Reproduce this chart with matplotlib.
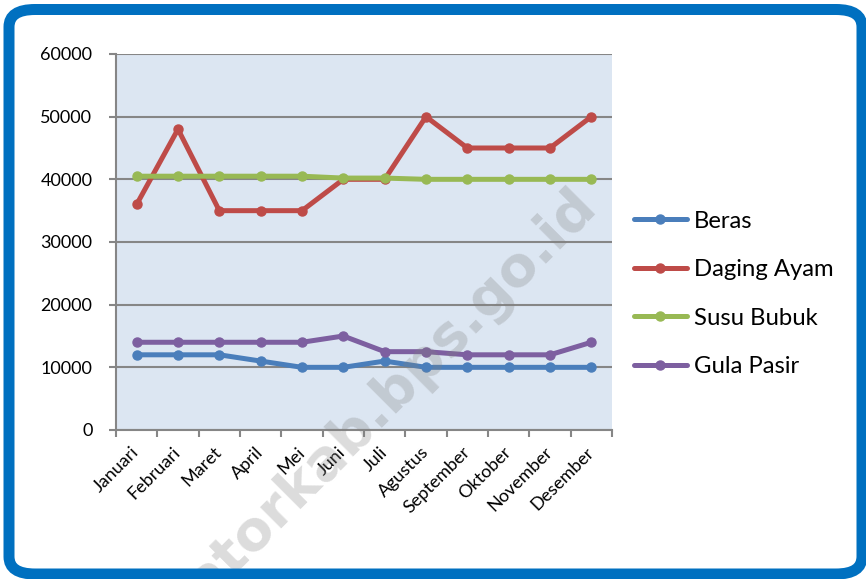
import matplotlib
matplotlib.use("Agg")
import matplotlib.pyplot as plt
from matplotlib.patches import FancyBboxPatch
import numpy as np

months = ["Januari", "Februari", "Maret", "April", "Mei", "Juni", "Juli",
          "Agustus", "September", "Oktober", "November", "Desember"]
beras = [12000, 12000, 12000, 11000, 10000, 10000, 11000, 10000, 10000, 10000, 10000, 10000]
daging_ayam = [36000, 48000, 35000, 35000, 35000, 40000, 40000, 50000, 45000, 45000, 45000, 50000]
susu_bubuk = [40500, 40500, 40500, 40500, 40500, 40200, 40200, 40000, 40000, 40000, 40000, 40000]
gula_pasir = [14000, 14000, 14000, 14000, 14000, 15000, 12500, 12500, 12000, 12000, 12000, 14000]
series_names = ["Beras", "Daging Ayam", "Susu Bubuk", "Gula Pasir"]
y_ticks = [0, 10000, 20000, 30000, 40000, 50000, 60000]

colors = ["#4A7EBB", "#BE4B48", "#98B954", "#7D5FA0"]

W, H = 866, 579
fig = plt.figure(figsize=(W / 100, H / 100), dpi=100)
plt.rcParams['font.family'] = ['Lato', 'DejaVu Sans']

L, R, T, B = 116, 612, 54, 430
ax = fig.add_axes([L / W, 1 - B / H, (R - L) / W, (B - T) / H])
ax.set_facecolor("#DCE6F2")

x = np.arange(len(months))
for vals, name, c in zip([beras, daging_ayam, susu_bubuk, gula_pasir], series_names, colors):
    ax.plot(x, vals, color=c, lw=3.6, marker='o', markersize=6.5, label=name,
            solid_joinstyle='round', solid_capstyle='round', zorder=3)

ax.set_xlim(-0.5, len(months) - 0.5)
ax.set_ylim(0, 60000)
ax.set_yticks(y_ticks)
ax.set_yticklabels([str(v) for v in y_ticks], fontsize=13)
ax.yaxis.grid(True, color="#868686", lw=1.5, zorder=1)
ax.set_axisbelow(True)

ax.set_xticks(x)
ax.set_xticklabels(months, rotation=45, ha='right', va='center', rotation_mode='anchor', fontsize=13)
ax.tick_params(axis='x', which='major', length=0, pad=14)
ax.set_xticks(np.arange(-0.5, len(months)), minor=True)
ax.tick_params(axis='x', which='minor', length=5, width=1.5, color="#868686", direction='out')
ax.tick_params(axis='y', length=5, width=1.5, color="#868686", pad=12)

for s in ['right', 'top']:
    ax.spines[s].set_visible(False)
for s in ['left', 'bottom']:
    ax.spines[s].set_color("#868686")
    ax.spines[s].set_linewidth(1.5)

leg = fig.legend(loc='center left', bbox_to_anchor=(634 / W, 1 - 294 / H), frameon=False,
                 fontsize=17.2, handlelength=2.2, handletextpad=0.3, labelspacing=1.15,
                 borderaxespad=0, borderpad=0)

# watermark
fig.text(392 / W, 1 - 395 / H, "atorkab.bps.go.id", rotation=45, ha='center', va='center',
         rotation_mode='anchor', fontsize=40, fontweight='bold', color='#808080', alpha=0.28,
         family='DejaVu Sans', zorder=10)

# border
bw = 11
border = FancyBboxPatch((9 / W, 1 - 574 / H), (862 - 9) / W, (574 - 9.5) / H,
                        boxstyle="round,pad=0,rounding_size=0.03",
                        transform=fig.transFigure, fill=False, edgecolor="#0070C0",
                        lw=bw * 72 / 100, zorder=20)
fig.patches.append(border)

fig.savefig("out.png", dpi=100)
